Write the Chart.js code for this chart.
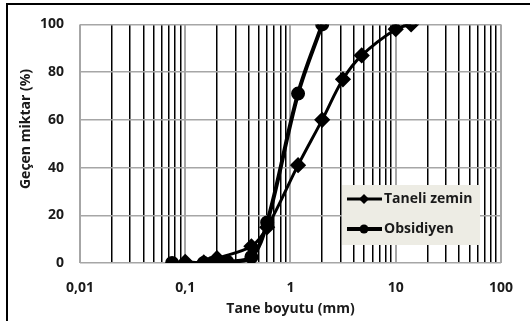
<!DOCTYPE html>
<html>
<head>
<meta charset="utf-8">
<script src="https://cdn.jsdelivr.net/npm/chart.js@4/dist/chart.umd.min.js"></script>
<style>
html,body{margin:0;padding:0;background:#fff;}
#wrap{position:relative;width:530px;height:321px;}
</style>
</head>
<body>
<div id="wrap"><canvas id="c" width="530" height="321"></canvas></div>
<script>
// ---- data ----
const seriesNames = ['Taneli zemin', 'Obsidiyen'];
const taneliSize = [0.1, 0.15, 0.2, 0.425, 0.6, 1.18, 2, 3.15, 4.75, 10, 14];
const taneliPass = [0.5, 0.3, 2, 7, 15, 41, 60, 77, 87, 98, 100];
const obsSize = [0.075, 0.15, 0.18, 0.25, 0.425, 0.6, 1.18, 2];
const obsPass = [0, 0, 0, 0.5, 2.5, 17, 71, 100];
const xTickValues = [0.01, 0.1, 1, 10, 100];
const xTickLabels = ['0,01', '0,1', '1', '10', '100'];
const yTickValues = [0, 20, 40, 60, 80, 100];
const xTitle = 'Tane boyutu (mm)';
const yTitle = 'Geçen miktar (%)';

const FONT = '"Open Sans", "DejaVu Sans", sans-serif';
const TXT = '#1a1a1a';

function pts(xs, ys){ return xs.map((x,i)=>({x:x, y:ys[i]})); }

// all minor/major grid positions for the log axis
const gridVals = [];
for (let d = 0; d < xTickValues.length - 1; d++) {
  for (let k = 1; k <= 9; k++) gridVals.push(+(xTickValues[d] * k).toPrecision(6));
}
gridVals.push(xTickValues[xTickValues.length - 1]);

function isMajor(v){ return xTickValues.some(t => Math.abs(t - v) / t < 1e-6); }

const frame = {
  id: 'frame',
  afterDraw(chart){
    const ctx = chart.ctx;
    ctx.save();
    ctx.strokeStyle = '#000';
    ctx.lineWidth = 2;
    ctx.beginPath();
    ctx.moveTo(7, 321); ctx.lineTo(7, 4); ctx.lineTo(530, 4);
    ctx.stroke();
    // y axis title
    ctx.translate(26, 129);
    ctx.rotate(-Math.PI / 2);
    ctx.fillStyle = TXT;
    ctx.font = 'bold 14px ' + FONT;
    ctx.textAlign = 'center';
    ctx.textBaseline = 'middle';
    ctx.fillText(yTitle, 0, 0);
    ctx.restore();
  }
};

const legendBox = {
  id: 'legendBox',
  afterDatasetsDraw(chart){
    const ctx = chart.ctx;
    ctx.save();
    const x0 = 342, y0 = 185, w = 138, h = 60;
    ctx.fillStyle = '#edece4';
    ctx.fillRect(x0, y0, w, h);
    chart.data.datasets.forEach((ds, i) => {
      const cy = y0 + 14 + i * 30;
      ctx.strokeStyle = '#000';
      ctx.lineWidth = ds.borderWidth;
      ctx.beginPath();
      ctx.moveTo(x0 + 5, cy); ctx.lineTo(x0 + 40, cy);
      ctx.stroke();
      ctx.fillStyle = '#000';
      const mx = x0 + 22;
      if (ds.pointStyle === 'rectRot') {
        const r = 5;
        ctx.beginPath();
        ctx.moveTo(mx, cy - r); ctx.lineTo(mx + r, cy); ctx.lineTo(mx, cy + r); ctx.lineTo(mx - r, cy);
        ctx.closePath(); ctx.fill();
      } else {
        ctx.beginPath(); ctx.arc(mx, cy, 4.5, 0, Math.PI * 2); ctx.fill();
      }
      ctx.fillStyle = TXT;
      ctx.font = 'bold 14px ' + FONT;
      ctx.textBaseline = 'middle';
      ctx.textAlign = 'left';
      ctx.fillText(ds.label, x0 + 42, cy);
    });
    ctx.restore();
  }
};

new Chart(document.getElementById('c'), {
  type: 'line',
  data: {
    datasets: [
      {
        label: seriesNames[0],
        data: pts(taneliSize, taneliPass),
        borderColor: '#000', backgroundColor: '#000',
        borderWidth: 3, pointStyle: 'rectRot', pointRadius: 6,
        tension: 0.35
      },
      {
        label: seriesNames[1],
        data: pts(obsSize, obsPass),
        borderColor: '#000', backgroundColor: '#000',
        borderWidth: 4, pointStyle: 'circle', pointRadius: 5,
        tension: 0.35
      }
    ]
  },
  options: {
    responsive: false,
    animation: false,
    devicePixelRatio: 1,
    layout: { padding: { left: 0, right: 20, top: 22, bottom: 0 } },
    plugins: { legend: { display: false }, tooltip: { enabled: false } },
    scales: {
      x: {
        type: 'logarithmic',
        min: xTickValues[0], max: xTickValues[xTickValues.length - 1],
        afterBuildTicks(s){ s.ticks = gridVals.map(v => ({ value: v, major: isMajor(v) })); },
        afterFit(s){ s.height = 58; },
        ticks: {
          autoSkip: false, maxRotation: 0, padding: 17,
          color: TXT,
          font: { family: FONT, size: 14, weight: 'bold' },
          callback(v){ const i = xTickValues.findIndex(t => Math.abs(t - v) / t < 1e-6); return i >= 0 ? xTickLabels[i] : ''; }
        },
        grid: {
          drawTicks: false,
          color(c){ return isMajor(c.tick.value) ? '#a6a6a6' : '#000'; },
          lineWidth(c){ return isMajor(c.tick.value) ? 2 : 1.5; }
        },
        border: { display: false },
        title: { display: true, text: xTitle, color: TXT, font: { family: FONT, size: 14, weight: 'bold' }, padding: { top: 4 } }
      },
      y: {
        min: 0, max: 100,
        afterBuildTicks(s){ s.ticks = yTickValues.map(v => ({ value: v })); },
        afterFit(s){ s.width = 80; },
        ticks: {
          padding: 16, color: TXT,
          font: { family: FONT, size: 14, weight: 'bold' }
        },
        grid: { drawTicks: false, color: '#a6a6a6', lineWidth: 1.5 },
        border: { display: false },
        title: { display: false }
      }
    }
  },
  plugins: [frame, legendBox]
});
</script>
</body>
</html>
